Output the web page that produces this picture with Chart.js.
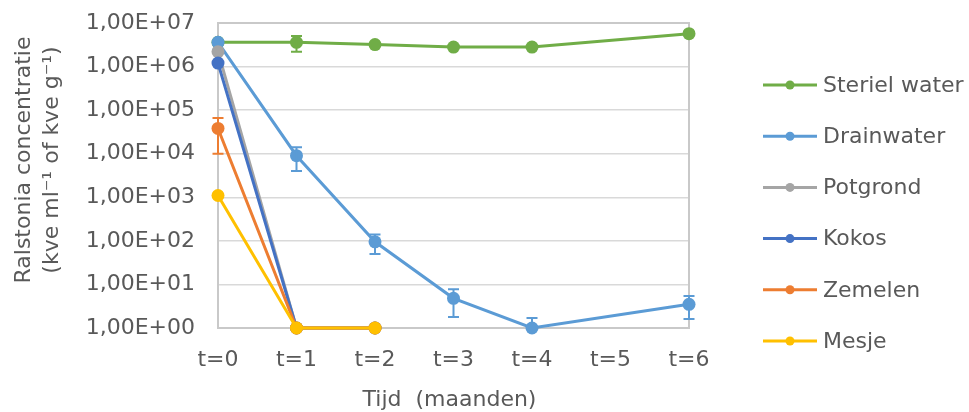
<!DOCTYPE html>
<html>
<head>
<meta charset="utf-8">
<script src="https://cdn.jsdelivr.net/npm/chart.js@4/dist/chart.umd.min.js"></script>
<style>
  html, body { margin: 0; padding: 0; background: #ffffff; }
  #wrap { width: 969px; height: 412px; position: relative; }
</style>
</head>
<body>
<div id="wrap"><canvas id="chart" width="969" height="412"></canvas></div>
<script>
// Sampling moments
const categories = ['t=0', 't=1', 't=2', 't=3', 't=4', 't=5', 't=6'];

// Ralstonia concentration per substrate (kve per ml or per g); null = not measured
const sterielWater = [3.6e6, 3.6e6, 3.2e6, 2.8e6, 2.8e6, null, 5.7e6];
const drainwater   = [3.6e6, 9.0e3, 95, 4.8, 1, null, 3.5];
const potgrond     = [2.2e6, 1, 1];
const kokos        = [1.2e6, 1, 1];
const zemelen      = [3.8e4, 1, 1];
const mesje        = [1.1e3, 1, 1];

// Standard deviations (same units), 0 = no error bar
const sterielWaterErr = [0, 1.4e6, 0, 0, 0, 0, 0];
const drainwaterErr   = [0, 5.0e3, 45, 3.0, 0.7, 0, 1.9];
const potgrondErr     = [0, 0, 0];
const kokosErr        = [0, 0, 0];
const zemelenErr      = [2.8e4, 0, 0];
const mesjeErr        = [0, 0, 0];

// Y axis ticks (decades) and their labels
const yTickValues = [1, 10, 100, 1e3, 1e4, 1e5, 1e6, 1e7];
const yTickLabels = ['1,00E+00', '1,00E+01', '1,00E+02', '1,00E+03',
                     '1,00E+04', '1,00E+05', '1,00E+06', '1,00E+07'];

const seriesNames = ['Steriel water', 'Drainwater', 'Potgrond', 'Kokos', 'Zemelen', 'Mesje'];
const seriesColors = ['#70AD47', '#5B9BD5', '#A5A5A5', '#4472C4', '#ED7D31', '#FFC000'];
const seriesData = [sterielWater, drainwater, potgrond, kokos, zemelen, mesje];
const seriesErr = [sterielWaterErr, drainwaterErr, potgrondErr, kokosErr, zemelenErr, mesjeErr];

const FONT = '"DejaVu Sans", sans-serif';
const TEXT = '#595959';

const datasets = seriesNames.map((name, i) => ({
  label: name,
  data: seriesData[i],
  errors: seriesErr[i],
  borderColor: seriesColors[i],
  backgroundColor: seriesColors[i],
  pointBackgroundColor: seriesColors[i],
  pointBorderColor: seriesColors[i],
  borderWidth: 3,
  pointRadius: 6.5,
  pointBorderWidth: 0,
  pointHoverRadius: 6.5,
  spanGaps: true,
  tension: 0,
  clip: false,
  order: seriesNames.length - i   // later series painted on top
}));

// Frame around the plot area
const plotFrame = {
  id: 'plotFrame',
  beforeDatasetsDraw(chart) {
    const { ctx, chartArea: a } = chart;
    ctx.save();
    ctx.strokeStyle = '#C9C9C9';
    ctx.lineWidth = 2;
    ctx.strokeRect(a.left, a.top, a.right - a.left, a.bottom - a.top);
    ctx.restore();
  }
};

// Vertical error bars with caps
const errorBars = {
  id: 'errorBars',
  afterDatasetsDraw(chart) {
    const { ctx, chartArea: a } = chart;
    const yScale = chart.scales.y;
    const xScale = chart.scales.x;
    ctx.save();
    chart.data.datasets.forEach((ds) => {
      ds.data.forEach((v, j) => {
        const e = ds.errors ? ds.errors[j] : 0;
        if (v == null || !e) return;
        const x = xScale.getPixelForValue(j);
        const hi = v + e;
        const lo = v - e;
        const yHi = yScale.getPixelForValue(hi);
        const loClipped = lo < yScale.min;
        const yLo = loClipped ? a.bottom : yScale.getPixelForValue(lo);
        ctx.strokeStyle = ds.borderColor;
        ctx.lineWidth = 2;
        ctx.beginPath();
        ctx.moveTo(x, yHi);
        ctx.lineTo(x, yLo);
        ctx.moveTo(x - 5.5, yHi);
        ctx.lineTo(x + 5.5, yHi);
        if (!loClipped) {
          ctx.moveTo(x - 5.5, yLo);
          ctx.lineTo(x + 5.5, yLo);
        }
        ctx.stroke();
      });
    });
    ctx.restore();
  }
};

// Legend with line + marker samples, and the two axis titles
const sideTexts = {
  id: 'sideTexts',
  afterDraw(chart) {
    const { ctx, chartArea: a } = chart;
    ctx.save();
    // legend
    const lx0 = a.right + 74, lx1 = a.right + 128, tx = a.right + 134;
    const y0 = 85, step = 51.2;
    ctx.font = '22px ' + FONT;
    ctx.textBaseline = 'middle';
    ctx.textAlign = 'left';
    chart.data.datasets.forEach((ds, i) => {
      const y = y0 + i * step;
      ctx.strokeStyle = ds.borderColor;
      ctx.lineWidth = 3;
      ctx.beginPath();
      ctx.moveTo(lx0, y);
      ctx.lineTo(lx1, y);
      ctx.stroke();
      ctx.fillStyle = ds.borderColor;
      ctx.beginPath();
      ctx.arc((lx0 + lx1) / 2, y, 4.5, 0, Math.PI * 2);
      ctx.fill();
      ctx.fillStyle = TEXT;
      ctx.fillText(ds.label, tx, y + 1);
    });

    // y axis title (two lines, rotated)
    ctx.fillStyle = TEXT;
    ctx.textAlign = 'center';
    ctx.textBaseline = 'middle';
    ctx.translate(0, 160);
    ctx.rotate(-Math.PI / 2);
    ctx.fillText('Ralstonia concentratie', 0, 24);
    ctx.fillText('(kve ml\u207B\u00B9 of kve g\u207B\u00B9)', 0, 52);
    ctx.setTransform(1, 0, 0, 1, 0, 0);

    // x axis title
    ctx.fillText('Tijd  (maanden)', (a.left + a.right) / 2 - 4, 400);
    ctx.restore();
  }
};

new Chart(document.getElementById('chart'), {
  type: 'line',
  data: { labels: categories, datasets },
  options: {
    responsive: false,
    animation: false,
    devicePixelRatio: 1,
    layout: { padding: { left: 0, right: 280, top: 23, bottom: 0 } },
    plugins: { legend: { display: false }, tooltip: { enabled: false } },
    scales: {
      x: {
        type: 'category',
        offset: false,
        grid: { display: false, drawTicks: false },
        border: { display: false },
        ticks: { color: TEXT, font: { family: FONT, size: 22 }, padding: 19, maxRotation: 0, autoSkip: false },
        afterFit(scale) { scale.height = 84; }
      },
      y: {
        type: 'logarithmic',
        min: 1,
        max: 1e7,
        grid: { color: '#D9D9D9', lineWidth: 1.5, drawTicks: true, tickLength: 23, tickColor: 'rgba(0,0,0,0)' },
        border: { display: false },
        afterBuildTicks(scale) { scale.ticks = yTickValues.map(v => ({ value: v })); },
        ticks: {
          color: TEXT,
          font: { family: FONT, size: 22 },
          padding: 0,
          autoSkip: false,
          callback: (v, i) => yTickLabels[i]
        },
        afterFit(scale) { scale.width = 218; }
      }
    }
  },
  plugins: [plotFrame, errorBars, sideTexts]
});
</script>
</body>
</html>
